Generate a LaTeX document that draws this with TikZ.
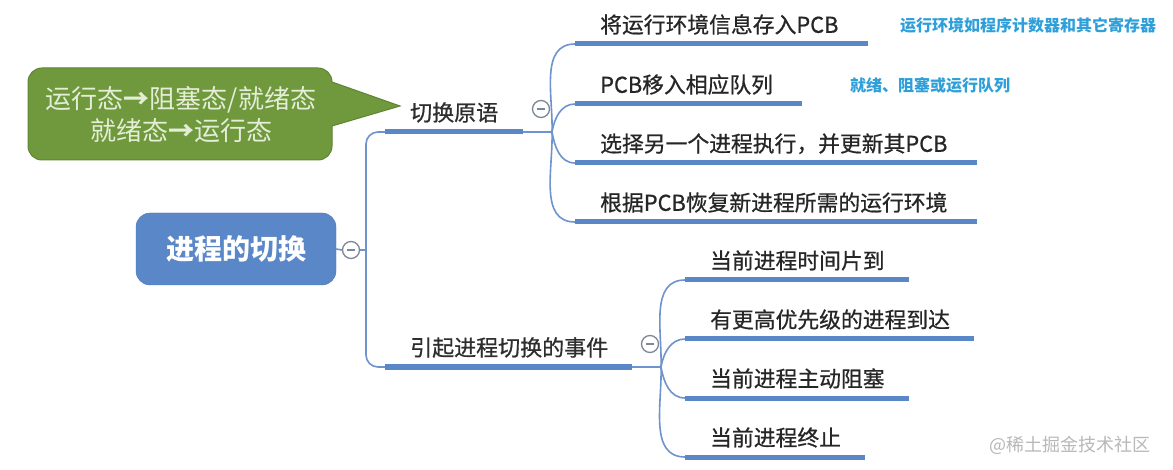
\documentclass[tikz,border=0pt]{standalone}
\usepackage{fontspec}
\setmainfont{Noto Sans CJK SC}
\newfontfamily\heavycjk[FakeBold=0.7]{Noto Sans CJK SC}
\usetikzlibrary{positioning}
\definecolor{mapblue}{HTML}{5A87C8}
\definecolor{linkblue}{HTML}{6F93CC}
\definecolor{notegreen}{HTML}{70993E}
\definecolor{notedark}{HTML}{5E8433}
\definecolor{notetext}{HTML}{E4EDD6}
\definecolor{hintblue}{HTML}{2E9FD9}
\definecolor{foldgray}{HTML}{7E8797}
\tikzset{
  rootbox/.style={draw=mapblue!90!black,fill=mapblue,rounded corners=14pt,text=white,font=\fontsize{28}{32}\selectfont\bfseries,minimum width=200pt,minimum height=72pt,inner sep=0pt},
  branch/.style={anchor=south west,text width=#1,align=left,inner sep=0pt,text depth=11pt,text=black!82,font=\heavycjk\fontsize{22}{25}\selectfont},
  leaf/.style={anchor=south west,text width=#1,align=left,inner sep=0pt,text depth=11pt,text=black!85,font=\heavycjk\fontsize{21.8}{25}\selectfont},
  uline/.style={line width=5pt,mapblue},
  link/.style={line width=1.6pt,linkblue},
  fold/.style={circle,draw=foldgray,fill=white,line width=1.3pt,minimum size=17pt,inner sep=0pt,
    path picture={\draw[foldgray,line width=1.3pt] ([xshift=-4pt]path picture bounding box.center) -- ([xshift=4pt]path picture bounding box.center);}},
  notebody/.style={draw=notedark,fill=notegreen,line width=1pt},
  notetxt/.style={text=notetext,align=center,font=\fontsize{26}{32}\selectfont},
  hint/.style={text=hintblue,font=\fontsize{16}{18}\selectfont\bfseries},
  wmark/.style={text=black!28,font=\fontsize{18}{20}\selectfont}
}

\begin{document}
\begin{tikzpicture}[x=1pt,y=-1pt]
  \fill[white] (0,0) rectangle (1173,470);
  \useasboundingbox (0,0) rectangle (1173,470);

  % speech bubble
  \draw[notebody] (28,114) [rounded corners=14pt] -- (28,68) -- (332,68) [sharp corners] -- (332,82) -- (400,106) -- (332,126) [rounded corners=14pt] -- (332,160) -- (28,160) -- cycle;
  \node[notetxt] (note) at (181,115) {运行态{\bfseries→}阻塞态/就绪态\\就绪态{\bfseries→}运行态};

  % root
  \node[rootbox] (root) at (236,249) {进程的切换};
  \node[fold] (fold0) at (351,250) {};
  \coordinate (trunk) at (366,250);

  % first level
  \node[branch=113pt] (prim) at (410,132) {切换原语};
  \node[branch=222pt] (cause) at (410,367) {引起进程切换的事件};
  \node[fold] (foldA) at (541,109) {};
  \node[fold] (foldB) at (650,344) {};
  \coordinate (jA) at (552,132);
  \coordinate (jB) at (661,367);

  % second level, switching primitives
  \node[leaf=268pt] (a1) at (600,44) {将运行环境信息存入PCB};
  \node[leaf=202pt] (a2) at (600,104) {PCB移入相应队列};
  \node[leaf=377pt] (a3) at (600,163) {选择另一个进程执行，并更新其PCB};
  \node[leaf=377pt] (a4) at (600,222) {根据PCB恢复新进程所需的运行环境};

  % second level, events
  \node[leaf=199pt] (b1) at (710,280) {当前进程时间片到};
  \node[leaf=264pt] (b2) at (710,339) {有更高优先级的进程到达};
  \node[leaf=199pt] (b3) at (710,398) {当前进程主动阻塞};
  \node[leaf=155pt] (b4) at (710,457) {当前进程终止};

  % hints
  \node[hint] (h1) at (1028,25) {运行环境如程序计数器和其它寄存器};
  \node[hint] (h2) at (930,85) {就绪、阻塞或运行队列};
  \node[wmark] (wm) at (1070,445) {@稀土掘金技术社区};

  % connectors
  \draw[link] (root.east) -- (fold0.west);
  \draw[link] (fold0.east) -- (trunk);
  \draw[link,rounded corners=12pt] ([xshift=-25pt]prim.south west) -| (trunk) |- ([xshift=-25pt]cause.south west);
  \draw[link] (prim.south east) -- (jA);
  \draw[link] (cause.south east) -- (jB);
  \foreach \n/\o in {a1/88,a2/80,a3/-80,a4/-88}
    \draw[link] (jA) to[out=\o,in=180] ([xshift=-25pt]\n.south west);
  \foreach \n/\o in {b1/88,b2/80,b3/-80,b4/-88}
    \draw[link] (jB) to[out=\o,in=180] ([xshift=-25pt]\n.south west);

  % underlines
  \foreach \n in {prim,cause,a1,a2,a3,a4,b1,b2,b3,b4}
    \draw[uline] ([xshift=-25pt]\n.south west) -- (\n.south east);
\end{tikzpicture}
\end{document}
